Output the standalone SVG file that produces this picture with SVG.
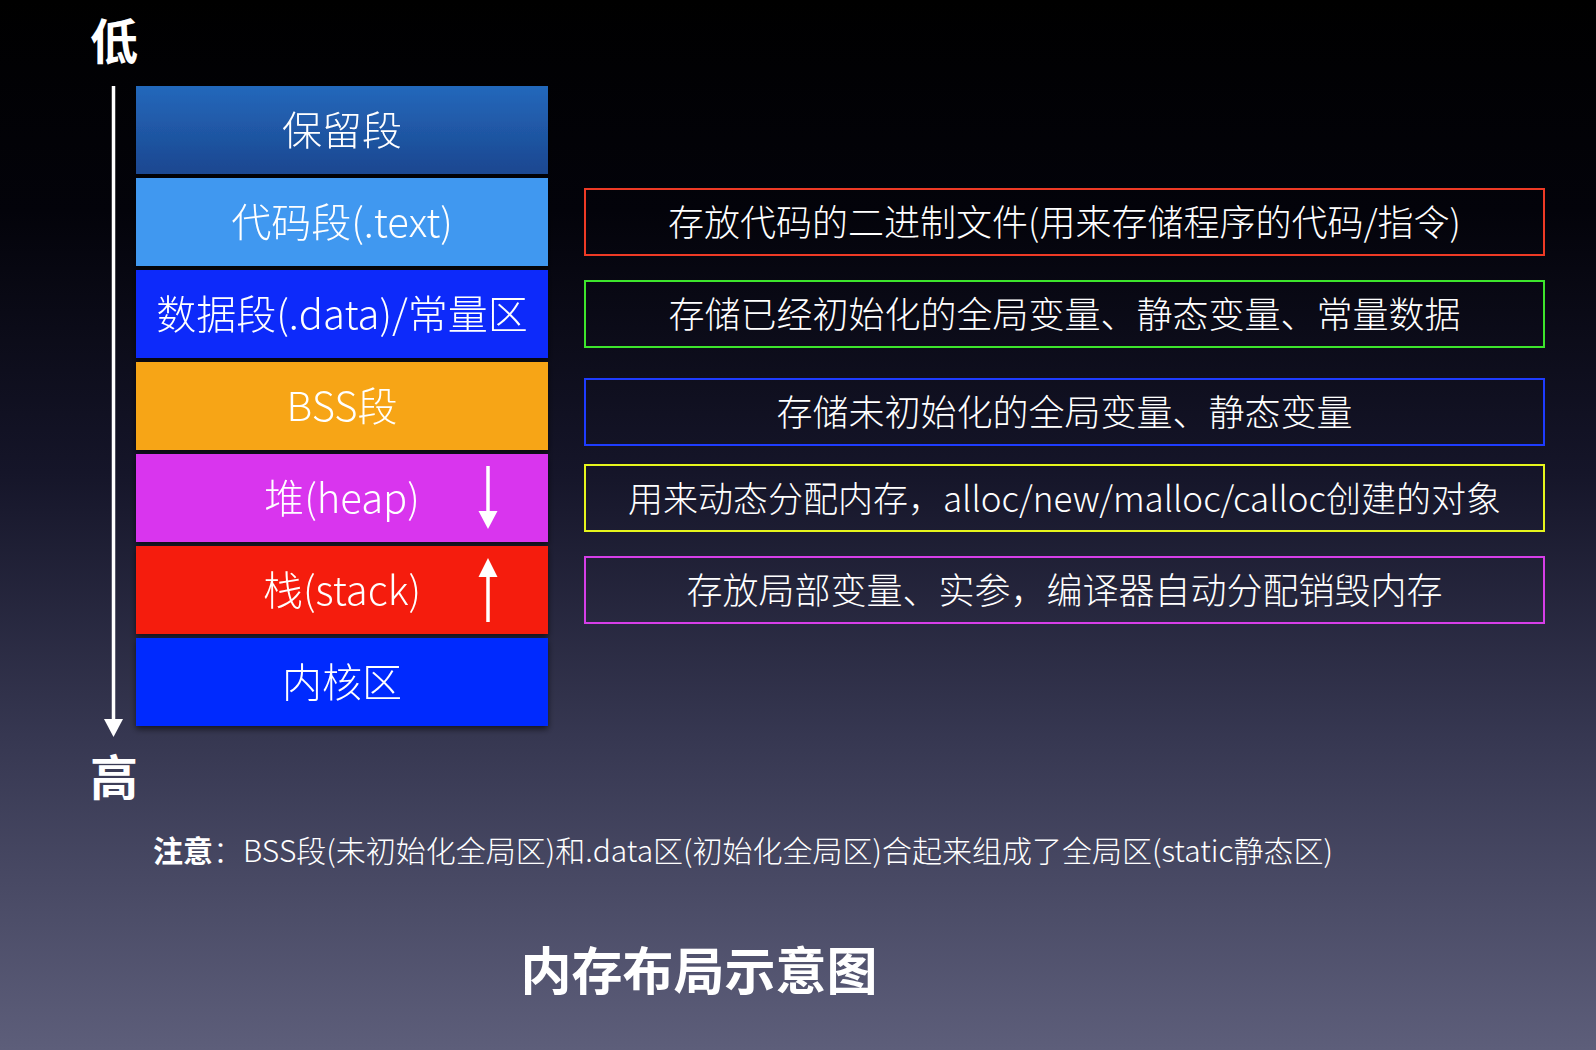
<svg xmlns="http://www.w3.org/2000/svg" width="1596" height="1050" viewBox="0 0 1596 1050">
<defs>
<linearGradient id="bg" x1="0" y1="0" x2="0" y2="1">
<stop offset="0" stop-color="#000000"/>
<stop offset="0.2" stop-color="#03030a"/>
<stop offset="0.45" stop-color="#151529"/>
<stop offset="0.7" stop-color="#363751"/>
<stop offset="1" stop-color="#5d5e7a"/>
</linearGradient>
<linearGradient id="g0" x1="0" y1="0" x2="0" y2="1">
<stop offset="0" stop-color="#2468bb"/>
<stop offset="1" stop-color="#1b4790"/>
</linearGradient>
<filter id="sh" x="-5%" y="-10%" width="110%" height="130%">
<feDropShadow dx="0" dy="3" stdDeviation="3" flood-color="#000" flood-opacity="0.6"/>
</filter>
</defs>
<style>
.bar text{font-family:"Noto Sans CJK SC","Liberation Sans",sans-serif;font-size:40px;font-weight:300;fill:#fff;text-anchor:middle;dominant-baseline:central}
.desc text{font-family:"Noto Sans CJK SC","Liberation Sans",sans-serif;font-size:36px;font-weight:300;fill:#fff;text-anchor:middle;dominant-baseline:central}
.desc text.sm{font-size:35px}
.desc rect{fill:none;stroke-width:2}
.lbl{font-family:"Noto Sans CJK SC","Liberation Sans",sans-serif;font-size:48px;font-weight:700;fill:#fff;text-anchor:middle;dominant-baseline:central}
.note{font-family:"Noto Sans CJK SC","Liberation Sans",sans-serif;font-size:30px;font-weight:300;fill:#fff;dominant-baseline:central}
.title{font-family:"Noto Sans CJK SC","Liberation Sans",sans-serif;font-size:51px;font-weight:700;fill:#fff;text-anchor:middle;dominant-baseline:central}
.wl{stroke:#fff;stroke-width:3.5;fill:none}
</style>
<rect x="0" y="0" width="1596" height="1050" fill="url(#bg)"/>

<g id="bars" filter="url(#sh)">
<g id="n-reserved" class="bar"><rect x="136" y="86" width="412" height="88" fill="url(#g0)"/><text x="342" y="128">保留段</text></g>
<g id="n-text" class="bar"><rect x="136" y="178" width="412" height="88" fill="#4198f0"/><text x="342" y="220">代码段(.text)</text></g>
<g id="n-data" class="bar"><rect x="136" y="270" width="412" height="88" fill="#0b2cfa"/><text x="342" y="312">数据段(.data)/常量区</text></g>
<g id="n-bss" class="bar"><rect x="136" y="362" width="412" height="88" fill="#f7a512"/><text x="342" y="404">BSS段</text></g>
<g id="n-heap" class="bar"><rect x="136" y="454" width="412" height="88" fill="#d935ee"/><text x="342" y="496">堆(heap)</text></g>
<g id="n-stack" class="bar"><rect x="136" y="546" width="412" height="88" fill="#f51e0c"/><text x="342" y="588">栈(stack)</text></g>
<g id="n-kernel" class="bar"><rect x="136" y="638" width="412" height="88" fill="#0029fe"/><text x="342" y="680">内核区</text></g>
</g>

<g id="descs" class="desc">
<g id="d-text"><rect x="585" y="189" width="959" height="66" stroke="#ee3a25"/><text x="1064.5" y="220">存放代码的二进制文件(用来存储程序的代码/指令)</text></g>
<g id="d-data"><rect x="585" y="281" width="959" height="66" stroke="#3de52c"/><text x="1064.5" y="312">存储已经初始化的全局变量、静态变量、常量数据</text></g>
<g id="d-bss"><rect x="585" y="379" width="959" height="66" stroke="#1e3cff"/><text x="1064.5" y="410">存储未初始化的全局变量、静态变量</text></g>
<g id="d-heap"><rect x="585" y="465" width="959" height="66" stroke="#e6f51c"/><text class="sm" x="1064.5" y="496">用来动态分配内存，alloc/new/malloc/calloc创建的对象</text></g>
<g id="d-stack"><rect x="585" y="557" width="959" height="66" stroke="#d63ee8"/><text x="1064.5" y="588">存放局部变量、实参，编译器自动分配销毁内存</text></g>
</g>

<g id="connectors">
<line class="wl" x1="113.5" y1="86" x2="113.5" y2="721"/>
<polygon points="104,719 123,719 113.5,737" fill="#fff"/>
<line class="wl" x1="488" y1="466" x2="488" y2="513"/>
<polygon points="478.5,511 497.5,511 488,529" fill="#fff"/>
<line class="wl" x1="488" y1="575" x2="488" y2="622"/>
<polygon points="478.5,577 497.5,577 488,558" fill="#fff"/>
</g>

<g id="labels">
<text class="lbl" x="114" y="38">低</text>
<text class="lbl" x="114" y="774">高</text>
<text class="note" x="153" y="849"><tspan font-weight="700">注意</tspan>：BSS段(未初始化全局区)和.data区(初始化全局区)合起来组成了全局区(static静态区)</text>
<text class="title" x="699" y="968">内存布局示意图</text>
</g>
</svg>
